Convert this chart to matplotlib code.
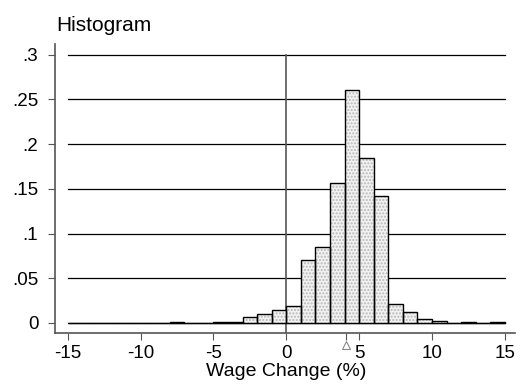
import matplotlib
matplotlib.use('Agg')
import matplotlib.pyplot as plt
import matplotlib.transforms as mtransforms

plt.rcParams['font.family'] = ['Liberation Sans', 'DejaVu Sans']

# histogram bins (left edges, width 1) and densities
bin_left = list(range(-15, 15))
density = [0, 0, 0, 0, 0, 0, 0, 0.0012, 0, 0, 0.0008, 0.001, 0.0064, 0.010, 0.0142,
           0.019, 0.070, 0.085, 0.156, 0.260, 0.185, 0.142, 0.021, 0.012, 0.004,
           0.0026, 0.0003, 0.0015, 0, 0.0008]
mean_change = 4.1

xticks = [-15, -10, -5, 0, 5, 10, 15]
yticks = [0, 0.05, 0.1, 0.15, 0.2, 0.25, 0.3]
ylabels = ['0', '.05', '.1', '.15', '.2', '.25', '.3']

fig = plt.figure(figsize=(5.2, 3.84), dpi=100)
ax = fig.add_axes([55 / 520, 51 / 384, 460 / 520, 289 / 384])

for y in yticks:
    ax.plot([-15, 15], [y, y], color='black', lw=0.9, zorder=1)
ax.plot([0, 0], [-0.02, 0.3], color='#555555', lw=1.2, zorder=1)

# dotted fill, then outlines
ax.bar(bin_left, density, width=1, align='edge', facecolor='#f2f2f2',
       edgecolor='#b8b8b8', lw=0, hatch='.....', zorder=2)
ax.bar(bin_left, density, width=1, align='edge', facecolor='none',
       edgecolor='black', lw=1.0, zorder=3)

ax.set_xlim(-15.87, 15.7)
ax.set_ylim(-0.0112, 0.312)
ax.set_xticks(xticks + [mean_change])
ax.set_xticklabels([str(t) for t in xticks] + [''])
ax.set_yticks(yticks)
ax.set_yticklabels(ylabels)
ax.tick_params(direction='out', length=5, color='#555555', labelsize=13.5)
ax.tick_params(axis='x', pad=4)
ax.tick_params(axis='y', pad=7)

for s in ['top', 'right']:
    ax.spines[s].set_visible(False)
for s in ['left', 'bottom']:
    ax.spines[s].set_color('#555555')
    ax.spines[s].set_linewidth(1.2)

trans = mtransforms.blended_transform_factory(ax.transData, ax.transAxes)
ax.plot([mean_change], [-0.043], marker='^', markersize=6, markerfacecolor='white',
        markeredgecolor='#888888', markeredgewidth=0.8, transform=trans, clip_on=False)

fig.text(286 / 520, 1 - 376 / 384, 'Wage Change (%)', fontsize=14, va='baseline', ha='center')
fig.text(56 / 520, 1 - 31 / 384, 'Histogram', fontsize=15, va='baseline', ha='left')

fig.savefig('out.png', dpi=100)
